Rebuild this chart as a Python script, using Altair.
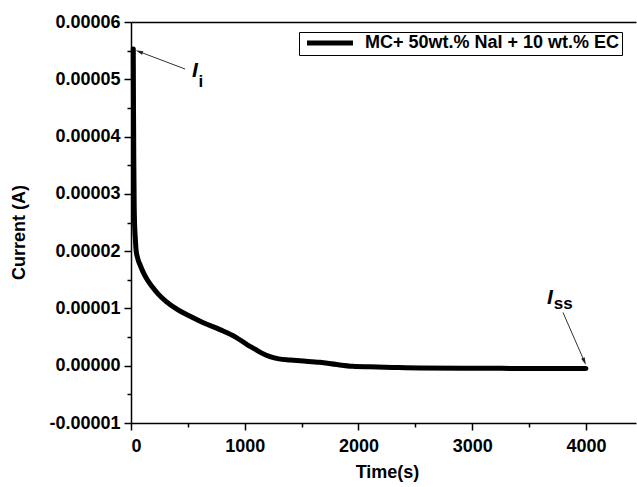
import altair as alt
import pandas as pd

# ---- data ----
time_s = [20, 22, 25, 28, 32, 38, 44, 58, 82, 110, 143, 190, 240, 310, 393, 533, 636,
          782, 920, 1020, 1090, 1150, 1222, 1300, 1400, 1486, 1660, 1810, 1950, 2100,
          2300, 2540, 3000, 3500, 4000]
current_e5 = [5.53, 4.5, 3.5, 2.8, 2.45, 2.22, 2.03, 1.88, 1.75, 1.62, 1.5, 1.37, 1.25,
              1.12, 1.0, 0.85, 0.75, 0.63, 0.5, 0.37, 0.29, 0.22, 0.16, 0.12, 0.1, 0.085,
              0.06, 0.02, -0.01, -0.02, -0.03, -0.04, -0.045, -0.047, -0.048]
current_a = [v * 1e-5 for v in current_e5]
series_name = "MC+ 50wt.% NaI + 10 wt.% EC"

x_major = [0, 1000, 2000, 3000, 4000]
x_minor = [500, 1500, 2500, 3500]
y_major = [-0.00001, 0.0, 0.00001, 0.00002, 0.00003, 0.00004, 0.00005, 0.00006]
y_minor = [-0.000005, 0.000005, 0.000015, 0.000025, 0.000035, 0.000045, 0.000055]

# annotations (data coordinates)
ann_main = ["I", "I"]
ann_sub = ["i", "ss"]
ann_main_t = [563, 3684]
ann_main_i = [5.15e-5, 1.19e-5]
ann_sub_t = [615, 3800]
ann_sub_i = [4.96e-5, 1.07e-5]
arrow_t_from = [475, 3798]
arrow_i_from = [5.18e-5, 0.93e-5]
arrow_t_to = [75, 3985]
arrow_i_to = [5.48e-5, 0.08e-5]
arrow_angle = [291, 157]

FONT = "Liberation Sans"

df = pd.DataFrame({"t": time_s, "i": current_a, "series": series_name})
ann = pd.DataFrame({
    "main": ann_main, "sub": ann_sub,
    "mt": ann_main_t, "mi": ann_main_i,
    "st": ann_sub_t, "si": ann_sub_i,
    "t0": arrow_t_from, "i0": arrow_i_from,
    "t1": arrow_t_to, "i1": arrow_i_to,
    "ang": arrow_angle,
})

xs = alt.Scale(domain=[0, 4440], nice=False, zero=False)
ys = alt.Scale(domain=[-0.00001, 0.00006], nice=False, zero=False)

ylab = "datum.value < 0 ? '-' + format(-datum.value, '.5f') : format(datum.value, '.5f')"

line = alt.Chart(df).mark_line(
    strokeWidth=5, strokeJoin="round", strokeCap="round", interpolate="monotone"
).encode(
    x=alt.X("t:Q", scale=xs, axis=alt.Axis(
        values=x_major, format="d", title="Time(s)", orient="bottom",
        tickSize=7, labelPadding=7, titleX=256, titleY=40, titleBaseline="top",
        titleAlign="center")),
    y=alt.Y("i:Q", scale=ys, axis=alt.Axis(
        values=y_major, labelExpr=ylab, title="Current (A)", orient="left",
        tickSize=7, labelPadding=4, titleX=-112, titleY=210, titleBaseline="middle",
        titleAlign="center", titleAngle=270)),
    color=alt.Color("series:N", scale=alt.Scale(range=["black"]), legend=alt.Legend(
        title=None, orient="none", legendX=168, legendY=10,
        symbolType="M-4,0H4", symbolSize=132, symbolStrokeWidth=5,
        symbolStrokeColor="black", symbolOffset=20, labelOffset=26, labelLimit=0,
        labelFont=FONT, labelFontSize=18, labelFontWeight="bold", labelColor="black",
        fillColor="white", strokeColor="black", padding=2, cornerRadius=0)),
)

minor = alt.Chart(df).mark_point(opacity=0).encode(
    x=alt.X("t:Q", scale=xs, axis=alt.Axis(
        values=x_minor, labels=False, domain=False, title=None, orient="bottom", tickSize=4)),
    y=alt.Y("i:Q", scale=ys, axis=alt.Axis(
        values=y_minor, labels=False, domain=False, title=None, orient="left", tickSize=4)),
)

top = alt.Chart(df).mark_point(opacity=0).encode(
    x=alt.X("t:Q", scale=xs, axis=alt.Axis(
        orient="top", labels=False, ticks=False, title=None, domain=True)),
    y=alt.Y("i:Q", scale=ys, axis=None),
)

arrows = alt.Chart(ann).mark_rule(color="#333333", strokeWidth=1).encode(
    x=alt.X("t0:Q", scale=xs, axis=None),
    y=alt.Y("i0:Q", scale=ys, axis=None),
    x2="t1:Q", y2="i1:Q",
)

heads = alt.Chart(ann).mark_point(
    shape="M0,-1L0.45,0.8L-0.45,0.8Z", filled=True, color="#222222", size=70, opacity=1
).encode(
    x=alt.X("t1:Q", scale=xs, axis=None),
    y=alt.Y("i1:Q", scale=ys, axis=None),
    angle=alt.Angle("ang:Q", scale=None),
)

main_txt = alt.Chart(ann).mark_text(
    font=FONT, fontSize=21, fontWeight="bold", fontStyle="italic", color="black"
).encode(
    x=alt.X("mt:Q", scale=xs, axis=None),
    y=alt.Y("mi:Q", scale=ys, axis=None),
    text="main:N",
)

sub_txt = alt.Chart(ann).mark_text(
    font=FONT, fontSize=17, fontWeight="bold", color="black"
).encode(
    x=alt.X("st:Q", scale=xs, axis=None),
    y=alt.Y("si:Q", scale=ys, axis=None),
    text="sub:N",
)

chart = alt.layer(line, minor, top, arrows, heads, main_txt, sub_txt).resolve_axis(
    x="independent", y="independent"
).properties(
    width=505, height=401,
    autosize=alt.AutoSizeParams(type="none"),
    padding={"left": 131, "top": 22, "right": 1, "bottom": 64},
    background="white",
).configure_view(stroke=None).configure_axis(
    labelFont=FONT, labelFontSize=18, labelFontWeight="bold", labelColor="black",
    titleFont=FONT, titleFontSize=18, titleFontWeight="bold", titleColor="black",
    domainColor="black", tickColor="black", domainWidth=1.5, tickWidth=1.5, grid=False,
)

chart.save("out.html", embed_options={"renderer": "svg", "actions": False})
